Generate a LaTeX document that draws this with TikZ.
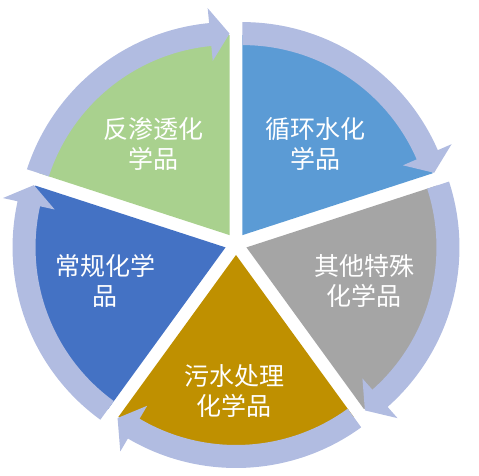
\documentclass[tikz,border=0pt]{standalone}
\usepackage{fontspec}
\usetikzlibrary{calc}
\newfontfamily\cjk{Noto Sans CJK SC}
\definecolor{cblue}{HTML}{5B9BD5}
\definecolor{cgray}{HTML}{A5A5A5}
\definecolor{cgold}{HTML}{BF9000}
\definecolor{cdblue}{HTML}{4472C4}
\definecolor{cgreen}{HTML}{A9D18E}
\definecolor{arrowc}{RGB}{177,188,225}
\tikzset{
  lbl/.style={text=white, align=center, font=\cjk\fontsize{25}{30}\selectfont, inner sep=0pt}
}
\begin{document}
\begin{tikzpicture}[x=1pt,y=1pt]
\useasboundingbox (0,0) rectangle (479,476);
\coordinate (C) at (236,232);
\foreach \b/\col in {54/cblue,-18/cgray,-90/cgold,-162/cdblue,126/cgreen}{
  \pgfmathsetmacro{\aone}{\b+36}
  \pgfmathsetmacro{\atwo}{\b-36}
  \pgfmathsetmacro{\abase}{\b-36+5.5}
  \begin{scope}[shift={($(C)+(\b:11pt)$)}]
    \fill[\col] (0,0) -- (\aone:200pt) arc[start angle=\aone, end angle=\atwo, radius=200pt] -- cycle;
    \fill[arrowc] (\aone:213pt) arc[start angle=\aone, end angle=\abase, radius=213pt]
      -- (\abase:228pt) -- (\atwo:201.5pt) -- (\abase:175pt) -- (\abase:190pt)
      arc[start angle=\abase, end angle=\aone, radius=190pt] -- cycle;
  \end{scope}
}
\node[lbl] (t1) at (153,332) {反渗透化\\学品};
\node[lbl] (t2) at (315,332) {循环水化\\学品};
\node[lbl] (t3) at (105,195) {常规化学\\品};
\node[lbl] (t4) at (364,195) {其他特殊\\化学品};
\node[lbl] (t5) at (234,85) {污水处理\\化学品};
\end{tikzpicture}
\end{document}
